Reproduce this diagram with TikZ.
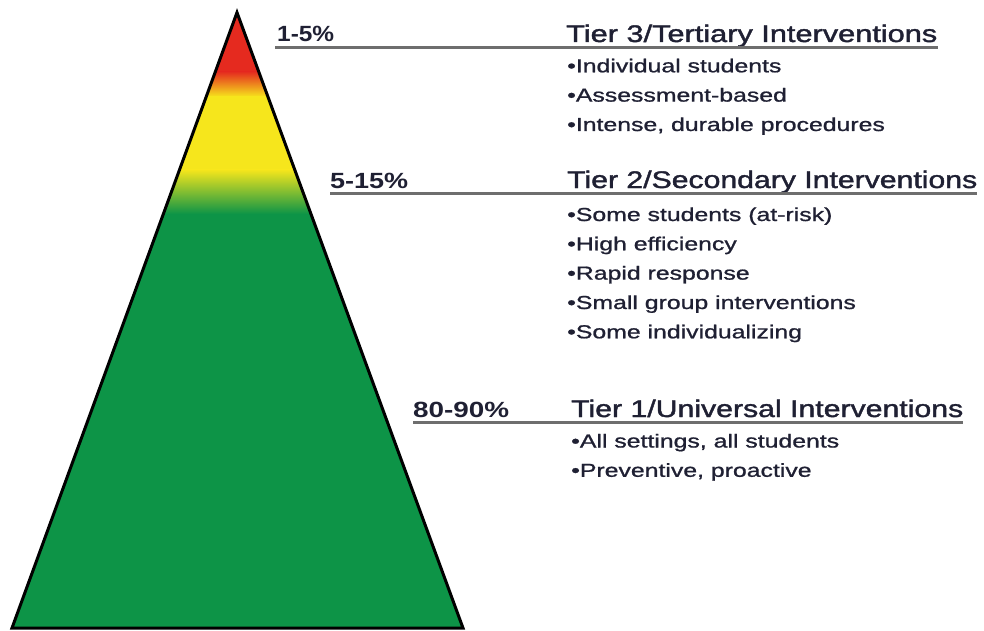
\documentclass[tikz,border=0pt]{standalone}
\usepackage{fontspec}
\setmainfont{Liberation Sans}
\newfontfamily\medsans{Liberation Sans}[FakeBold=0.9]
\newfontfamily\headsans{Liberation Sans}[FakeBold=1.4]
\usepackage{graphicx}
\definecolor{tred}{HTML}{E52A1F}
\definecolor{torange}{HTML}{F39A1C}
\definecolor{tyel}{HTML}{F6E61C}
\definecolor{tgreen}{HTML}{0D9447}
\definecolor{txt}{HTML}{1F2033}
\definecolor{ulgray}{HTML}{6E6E6E}
\newcommand{\fitw}[2]{\resizebox{#1}{\height}{#2}}
\newcommand{\bstretch}[1]{\scalebox{1.32}[1]{#1}}
\tikzset{
  pct/.style={anchor=base west, inner sep=0pt, text=txt, font=\fontsize{22}{24}\selectfont\bfseries},
  head/.style={anchor=base west, inner sep=0pt, text=txt, font=\headsans\fontsize{24}{26}\selectfont},
  bul/.style={anchor=base west, inner sep=0pt, text=txt, font=\medsans\fontsize{18.8}{20}\selectfont},
  uline/.style={draw=ulgray, line width=2.4pt},
  outline/.style={draw=black, line width=3pt, line join=miter}
}
\begin{document}
\begin{tikzpicture}[x=1pt,y=-1pt]
\useasboundingbox (0,0) rectangle (984,631);
\fill[white] (0,0) rectangle (984,631);
% pyramid
\coordinate (apex) at (237,12.5);
\coordinate (bl) at (12,628);
\coordinate (br) at (463,628);
\begin{scope}
\clip (apex) -- (bl) -- (br) -- cycle;
\fill[tred] (0,0) rectangle (984,72);
\shade[top color=tred, middle color=torange, bottom color=tyel] (0,71.5) rectangle (984,97);
\fill[tyel] (0,96.5) rectangle (984,170);
\shade[top color=tyel, bottom color=tgreen] (0,169.5) rectangle (984,214);
\fill[tgreen] (0,213.5) rectangle (984,631);
\end{scope}
\draw[outline] (apex) -- (bl) -- (br) -- cycle;
% Tier 3
\node[pct] (pctC) at (277,42) {\fitw{57pt}{1-5\%}};
\node[head] (headC) at (566,42) {\fitw{371pt}{Tier 3/Tertiary Interventions}};
\coordinate (ulCa) at (275,47.5);
\coordinate (ulCb) at (938,47.5);
\draw[uline] (ulCa) -- (ulCb);
\node[bul] (c1) at (567,72.3) {\bstretch{•Individual students}};
\node[bul] (c2) at (567,101.6) {\bstretch{•Assessment-based}};
\node[bul] (c3) at (567,131) {\bstretch{•Intense, durable procedures}};
% Tier 2
\node[pct] (pctB) at (330,188) {\fitw{78pt}{5-15\%}};
\node[head] (headB) at (567,188) {\fitw{410pt}{Tier 2/Secondary Interventions}};
\coordinate (ulBa) at (330,193.5);
\coordinate (ulBb) at (977,193.5);
\draw[uline] (ulBa) -- (ulBb);
\node[bul] (b1) at (567,221) {\bstretch{•Some students (at-risk)}};
\node[bul] (b2) at (567,250.3) {\bstretch{•High efficiency}};
\node[bul] (b3) at (567,279.6) {\bstretch{•Rapid response}};
\node[bul] (b4) at (567,309) {\bstretch{•Small group interventions}};
\node[bul] (b5) at (567,338.3) {\bstretch{•Some individualizing}};
% Tier 1
\node[pct] (pctA) at (413,417) {\fitw{96pt}{80-90\%}};
\node[head] (headA) at (571,417) {\fitw{392pt}{Tier 1/Universal Interventions}};
\coordinate (ulAa) at (413,422.5);
\coordinate (ulAb) at (963,422.5);
\draw[uline] (ulAa) -- (ulAb);
\node[bul] (a1) at (571,447.5) {\bstretch{•All settings, all students}};
\node[bul] (a2) at (571,476.8) {\bstretch{•Preventive, proactive}};
\end{tikzpicture}
\end{document}
